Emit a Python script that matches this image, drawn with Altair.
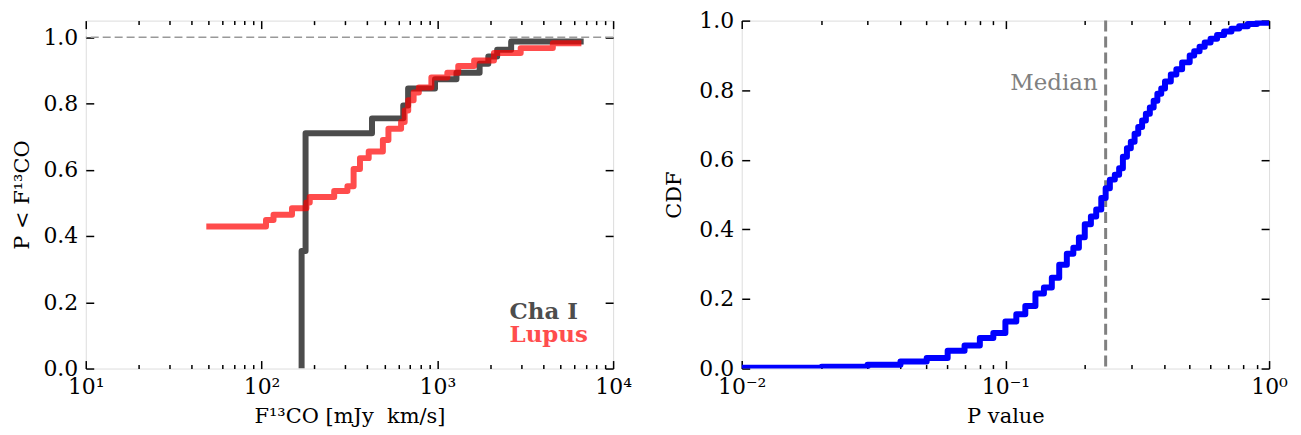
import altair as alt
import pandas as pd

# ---------------- data ----------------
# Left panel: cumulative distributions of 13CO flux (mJy km/s)
cha_flux = [169, 169, 178, 425, 640, 682, 970, 1285, 1740, 1950, 2190, 2630, 6800]
cha_cdf = [0.0, 0.355, 0.71, 0.755, 0.794, 0.845, 0.873, 0.893, 0.92, 0.942, 0.962, 0.987, 0.987]

lupus_flux = [48.5, 106, 117, 149, 180, 188, 259, 308, 334, 363, 407, 490, 527, 622, 652,
              683, 733, 785, 925, 1140, 1315, 1620, 2100, 2980, 4540, 6600]
lupus_cdf = [0.429, 0.448, 0.464, 0.484, 0.501, 0.518, 0.536, 0.55, 0.602, 0.635, 0.655, 0.69,
             0.724, 0.744, 0.779, 0.81, 0.833, 0.848, 0.878, 0.893, 0.913, 0.93, 0.952, 0.967,
             0.982, 0.982]

series_names = ["Cha I", "Lupus"]

# Right panel: CDF of P values
p_values = [0.01, 0.0201, 0.030, 0.040, 0.0503, 0.0604, 0.070, 0.080, 0.090, 0.100, 0.110,
            0.119, 0.130, 0.140, 0.150, 0.160, 0.171, 0.181, 0.190, 0.200, 0.211, 0.221, 0.231,
            0.240, 0.249, 0.260, 0.270, 0.279, 0.289, 0.299, 0.309, 0.319, 0.330, 0.341, 0.353,
            0.365, 0.377, 0.390, 0.403, 0.424, 0.445, 0.468, 0.500, 0.520, 0.545, 0.570, 0.600,
            0.635, 0.675, 0.720, 0.770, 0.830, 0.900, 1.0]
p_cdf = [0.002, 0.005, 0.011, 0.020, 0.030, 0.051, 0.066, 0.088, 0.102, 0.135, 0.156, 0.180,
         0.216, 0.233, 0.261, 0.298, 0.330, 0.347, 0.377, 0.415, 0.437, 0.457, 0.490, 0.518,
         0.543, 0.557, 0.576, 0.609, 0.633, 0.652, 0.675, 0.694, 0.713, 0.732, 0.750, 0.770,
         0.790, 0.805, 0.825, 0.845, 0.860, 0.880, 0.900, 0.912, 0.925, 0.937, 0.948, 0.959,
         0.969, 0.977, 0.984, 0.990, 0.994, 0.997]
median_p = 0.24

left_x_major = [10, 100, 1000, 10000]
left_x_minor = [m * d for d in (10, 100, 1000) for m in range(2, 10)]
right_x_major = [0.01, 0.1, 1.0]
right_x_minor = [m * d for d in (0.01, 0.1) for m in range(2, 10)]
y_major = [0.0, 0.2, 0.4, 0.6, 0.8, 1.0]

# ---------------- styling ----------------
FONT = "DejaVu Serif"
W, H = 529, 349
TICK_FS = 22
TITLE_FS = 21

df_cha = pd.DataFrame({"x": cha_flux, "y": cha_cdf})
df_lup = pd.DataFrame({"x": lupus_flux, "y": lupus_cdf})
df_p = pd.DataFrame({"x": p_values, "y": p_cdf})

lx_scale = alt.Scale(type="log", domain=[10, 10000], nice=False)
ly_scale = alt.Scale(domain=[0, 1.05], nice=False, zero=False)
rx_scale = alt.Scale(type="log", domain=[0.01, 1.0], nice=False)
ry_scale = alt.Scale(domain=[0, 1.0], nice=False, zero=False)


def label_axis(orient, values, title, label_expr=None, fmt=None, title_pad=8, label_pad=8):
    kw = dict(orient=orient, values=values, title=title, ticks=False, domain=False, grid=False,
              labelFont=FONT, labelFontSize=TICK_FS, labelColor="black", labelPadding=label_pad,
              labelOverlap=False, labelFlush=False, titleFont=FONT, titleFontSize=TITLE_FS,
              titleFontWeight="normal", titleColor="black", titlePadding=title_pad)
    if label_expr:
        kw["labelExpr"] = label_expr
    if fmt:
        kw["format"] = fmt
    return alt.Axis(**kw)


def tick_axis(orient, values, size, offset):
    return alt.Axis(orient=orient, values=values, labels=False, ticks=True, tickSize=size,
                    tickWidth=1.5, tickColor="black", domain=False, grid=False, title=None,
                    offset=offset)


def ghost(df, xs, ys, xaxis, yaxis):
    return alt.Chart(df).mark_line(opacity=0).encode(
        x=alt.X("x:Q", scale=xs, axis=xaxis),
        y=alt.Y("y:Q", scale=ys, axis=yaxis),
    )


left_labels = ("datum.value == 10 ? '10¹' : datum.value == 100 ? '10²' : "
               "datum.value == 1000 ? '10³' : '10⁴'")
right_labels = ("datum.value < 0.05 ? '10⁻²' : datum.value < 0.5 ? '10⁻¹' : '10⁰'")

# ---------------- left panel ----------------
cha_line = alt.Chart(df_cha).mark_line(
    interpolate="step-after", color="black", opacity=0.7, strokeWidth=6,
    strokeJoin="round", strokeCap="butt", clip=True
).encode(
    x=alt.X("x:Q", scale=lx_scale,
            axis=label_axis("bottom", left_x_major, "F¹³CO [mJy\u00a0 km/s]", left_labels)),
    y=alt.Y("y:Q", scale=ly_scale,
            axis=label_axis("left", y_major, "P < F¹³CO", fmt=".1f", title_pad=10)),
)

lup_line = alt.Chart(df_lup).mark_line(
    interpolate="step-after", color="red", opacity=0.7, strokeWidth=6,
    strokeJoin="round", strokeCap="butt", clip=True
).encode(
    x=alt.X("x:Q", scale=lx_scale, axis=tick_axis("top", left_x_major, 8, -H)),
    y=alt.Y("y:Q", scale=ly_scale, axis=tick_axis("right", y_major, 8, -W)),
)

one_line = alt.Chart(pd.DataFrame({"y": [1.0]})).mark_rule(
    color="#999999", strokeWidth=1.5, strokeDash=[8, 4]
).encode(y=alt.Y("y:Q", scale=ly_scale, axis=None))

legend_x = 2575
legend_y = [0.149, 0.080]
legend_colors = ["#4d4d4d", "#ff4d4d"]
legend_layers = []
for name, yy, col in zip(series_names, legend_y, legend_colors):
    legend_layers.append(
        alt.Chart(pd.DataFrame({"x": [legend_x], "y": [yy], "t": [name]})).mark_text(
            font=FONT, fontSize=23, fontWeight="bold", color=col, align="left",
            baseline="alphabetic"
        ).encode(
            x=alt.X("x:Q", scale=lx_scale, axis=None),
            y=alt.Y("y:Q", scale=ly_scale, axis=None),
            text="t:N",
        )
    )

left = alt.layer(
    cha_line, lup_line, one_line, *legend_layers,
    ghost(df_cha, lx_scale, ly_scale, tick_axis("top", left_x_minor, 4, -H),
          tick_axis("left", y_major, 8, -W)),
    ghost(df_cha, lx_scale, ly_scale, tick_axis("bottom", left_x_major, 8, -H), None),
    ghost(df_cha, lx_scale, ly_scale, tick_axis("bottom", left_x_minor, 4, -H), None),
).resolve_axis(x="independent", y="independent").properties(width=W, height=H)

# ---------------- right panel ----------------
p_line = alt.Chart(df_p).mark_line(
    interpolate="step-after", color="#0000ff", strokeWidth=6,
    strokeJoin="round", strokeCap="butt", clip=True
).encode(
    x=alt.X("x:Q", scale=rx_scale,
            axis=label_axis("bottom", right_x_major, "P value", right_labels)),
    y=alt.Y("y:Q", scale=ry_scale,
            axis=label_axis("left", y_major, "CDF", fmt=".1f", title_pad=14)),
)

median_rule = alt.Chart(pd.DataFrame({"x": [median_p]})).mark_rule(
    color="#808080", strokeWidth=3, strokeDash=[11, 5]
).encode(x=alt.X("x:Q", scale=rx_scale, axis=None))

median_text = alt.Chart(pd.DataFrame({"x": [median_p], "y": [0.80], "t": ["Median"]})).mark_text(
    font=FONT, fontSize=23, color="#808080", align="right", baseline="alphabetic", dx=-8
).encode(
    x=alt.X("x:Q", scale=rx_scale, axis=None),
    y=alt.Y("y:Q", scale=ry_scale, axis=None),
    text="t:N",
)

right = alt.layer(
    median_rule, p_line, median_text,
    ghost(df_p, rx_scale, ry_scale, tick_axis("top", right_x_major, 8, -H),
          tick_axis("right", y_major, 8, -W)),
    ghost(df_p, rx_scale, ry_scale, tick_axis("top", right_x_minor, 4, -H),
          tick_axis("left", y_major, 8, -W)),
    ghost(df_p, rx_scale, ry_scale, tick_axis("bottom", right_x_major, 8, -H), None),
    ghost(df_p, rx_scale, ry_scale, tick_axis("bottom", right_x_minor, 4, -H), None),
).resolve_axis(x="independent", y="independent").properties(width=W, height=H)

chart = alt.hconcat(left, right, spacing=129, bounds="flush").properties(
    padding={"left": 3, "top": 0, "right": 5, "bottom": 5},
).configure_view(stroke="black", strokeWidth=2).configure(background="white")

chart.save("out.html", embed_options={"renderer": "svg", "actions": False})
